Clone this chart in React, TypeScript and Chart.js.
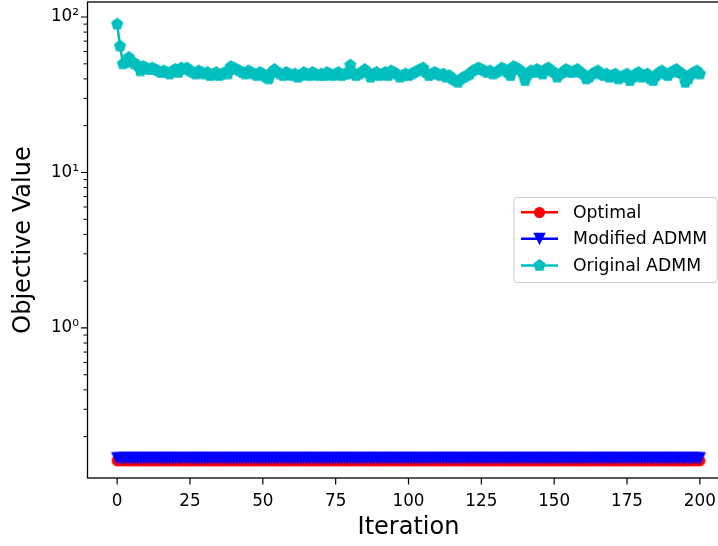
import React, { useEffect, useRef } from 'react';
import { Chart, registerables } from 'chart.js';

Chart.register(...registerables);

// ---------------- data ----------------
const iterations: number[] = Array.from({ length: 201 }, (_, i) => i);

const originalADMM: number[] = [
  90, 65, 50, 51, 55, 52, 50, 49, 45, 48, 47, 46, 47, 46, 45, 44, 45, 44, 43, 45, 46,
  44, 47, 46, 47, 45, 44, 43, 45, 44, 43, 44, 42, 43, 44, 42, 43, 44, 43, 48, 47,
  46, 45, 44, 43, 45, 44, 43, 42, 44, 43, 41, 40, 44, 46, 44, 43, 42, 44, 43, 42,
  43, 41, 42, 44, 43, 42, 44, 43, 42, 43, 42, 44, 43, 42, 43, 44, 42, 43, 43, 49,
  44, 42, 43, 44, 46, 44, 41, 43, 44, 42, 43, 44, 42, 45, 44, 43, 41, 42, 43, 42,
  43, 44, 45, 46, 47, 44, 42, 43, 44, 43, 42, 43, 41, 42, 40, 39, 38, 40, 41, 42,
  43, 45, 46, 47, 46, 45, 44, 45, 43, 44, 45, 47, 46, 44, 42, 48, 47, 46, 44, 39,
  43, 45, 44, 46, 45, 43, 46, 47, 45, 44, 41, 43, 44, 46, 45, 44, 45, 46, 44, 43,
  40, 41, 43, 44, 45, 43, 42, 43, 41, 42, 43, 40, 41, 42, 43, 39, 41, 43, 44, 41,
  42, 43, 40, 39, 42, 44, 45, 43, 42, 44, 45, 46, 44, 43, 38, 40, 43, 44, 45, 43,
];

const OPTIMAL_VALUE = 0.14;
const MODIFIED_VALUE = 0.146;
const optimal: number[] = iterations.map(() => OPTIMAL_VALUE);
const modifiedADMM: number[] = iterations.map(() => MODIFIED_VALUE);

const seriesLabels = ['Optimal', 'Modified ADMM', 'Original ADMM'];
const xTickValues = [0, 25, 50, 75, 100, 125, 150, 175, 200];
const yMajorTicks = [1, 10, 100];
const yMinorTicks = [0.2, 0.3, 0.4, 0.5, 0.6, 0.7, 0.8, 0.9, 2, 3, 4, 5, 6, 7, 8, 9, 20, 30, 40, 50, 60, 70, 80, 90];
const yTickLabels: Record<string, string> = { '1': '10\u2070', '10': '10\u00b9', '100': '10\u00b2' };

const X_MIN = -10;
const X_MAX = 210;
const Y_MIN = 0.1084;
const Y_MAX = 124.9;

// ---------------- styles ----------------
const RED = '#ff0000';
const BLUE = '#0000ff';
const CYAN = '#00bfbf';
const FONT = "'DejaVu Sans', sans-serif";

const AREA = { left: 88, top: 2, right: 729, bottom: 478 };
const CANVAS_W = 740;
const CANVAS_H = 546;

function makeMarker(kind: 'pentagon' | 'tridown' | 'circle', color: string, ms: number, ew: number): HTMLCanvasElement {
  const dim = Math.ceil(ms + ew * 2 + 2) | 0;
  const c = document.createElement('canvas');
  c.width = dim;
  c.height = dim;
  const ctx = c.getContext('2d')!;
  const cx = dim / 2;
  const cy = dim / 2;
  ctx.beginPath();
  if (kind === 'pentagon') {
    const r = ms / 2;
    for (let k = 0; k < 5; k++) {
      const a = -Math.PI / 2 + (k * 2 * Math.PI) / 5;
      const px = cx + r * Math.cos(a);
      const py = cy + r * Math.sin(a);
      if (k === 0) ctx.moveTo(px, py);
      else ctx.lineTo(px, py);
    }
  } else if (kind === 'tridown') {
    const h = ms / 2;
    ctx.moveTo(cx, cy + h);
    ctx.lineTo(cx - h, cy - h);
    ctx.lineTo(cx + h, cy - h);
  } else {
    ctx.arc(cx, cy, ms / 2, 0, Math.PI * 2);
  }
  ctx.closePath();
  ctx.fillStyle = color;
  ctx.fill();
  ctx.lineWidth = ew;
  ctx.strokeStyle = color;
  ctx.lineJoin = 'miter';
  ctx.stroke();
  return c;
}

export default function App() {
  const ref = useRef<HTMLCanvasElement | null>(null);

  useEffect(() => {
    if (!ref.current) return;
    Chart.defaults.font.family = FONT;

    const redMarker = makeMarker('circle', RED, 9.6, 1.5);
    const blueMarker = makeMarker('tridown', BLUE, 10, 1.5);
    const cyanMarker = makeMarker('pentagon', CYAN, 11, 1.6);
    const markers = [redMarker, blueMarker, cyanMarker];
    const colors = [RED, BLUE, CYAN];

    const decorPlugin = {
      id: 'decor',
      afterDraw(chart: any) {
        const { ctx, chartArea } = chart;
        const { left, right, top, bottom } = chartArea;
        const xs = chart.scales.x;
        const ys = chart.scales.y;
        ctx.save();
        // spines
        ctx.strokeStyle = '#000';
        ctx.lineWidth = 1.3;
        ctx.strokeRect(left - 0.5, top, right - left + 0.5, bottom - top);
        // major ticks
        ctx.lineWidth = 1.2;
        ctx.beginPath();
        for (const v of xTickValues) {
          const px = xs.getPixelForValue(v);
          ctx.moveTo(px, bottom);
          ctx.lineTo(px, bottom + 6.5);
        }
        for (const v of yMajorTicks) {
          const py = ys.getPixelForValue(v);
          ctx.moveTo(left - 0.5, py);
          ctx.lineTo(left - 7, py);
        }
        ctx.stroke();
        // minor ticks
        ctx.lineWidth = 1;
        ctx.beginPath();
        for (const v of yMinorTicks) {
          const py = ys.getPixelForValue(v);
          ctx.moveTo(left - 0.5, py);
          ctx.lineTo(left - 4.5, py);
        }
        ctx.stroke();
        // y tick labels
        ctx.fillStyle = '#000';
        ctx.font = `16.8px ${FONT}`;
        ctx.textAlign = 'right';
        ctx.textBaseline = 'middle';
        for (const v of yMajorTicks) {
          const py = ys.getPixelForValue(v);
          ctx.fillText(yTickLabels[String(v)], left - 9, py);
        }

        // legend
        const boxW = 203;
        const boxH = 85;
        const bx = right - 12 - boxW;
        const by = (top + bottom) / 2 - boxH / 2;
        ctx.beginPath();
        const r = 3;
        ctx.moveTo(bx + r, by);
        ctx.lineTo(bx + boxW - r, by);
        ctx.arcTo(bx + boxW, by, bx + boxW, by + r, r);
        ctx.lineTo(bx + boxW, by + boxH - r);
        ctx.arcTo(bx + boxW, by + boxH, bx + boxW - r, by + boxH, r);
        ctx.lineTo(bx + r, by + boxH);
        ctx.arcTo(bx, by + boxH, bx, by + boxH - r, r);
        ctx.lineTo(bx, by + r);
        ctx.arcTo(bx, by, bx + r, by, r);
        ctx.closePath();
        ctx.fillStyle = 'rgba(255,255,255,0.8)';
        ctx.fill();
        ctx.strokeStyle = '#cccccc';
        ctx.lineWidth = 1;
        ctx.stroke();

        ctx.font = `17.3px ${FONT}`;
        ctx.textBaseline = 'middle';
        ctx.textAlign = 'left';
        for (let i = 0; i < seriesLabels.length; i++) {
          const ry = by + 14.7 + i * 26.6;
          ctx.strokeStyle = colors[i];
          ctx.lineWidth = 2.5;
          ctx.beginPath();
          ctx.moveTo(bx + 7, ry);
          ctx.lineTo(bx + 44, ry);
          ctx.stroke();
          const m = markers[i];
          ctx.drawImage(m, Math.round(bx + 25.5 - m.width / 2), Math.round(ry - m.height / 2));
          ctx.fillStyle = '#000';
          ctx.fillText(seriesLabels[i], bx + 59, ry + 1);
        }
        ctx.restore();
      },
    };

    const toXY = (arr: number[]) => iterations.map((x, i) => ({ x, y: arr[i] }));

    const chart: any = new Chart(ref.current, {
      type: 'line',
      data: {
        datasets: [
          { label: seriesLabels[0], data: toXY(optimal), borderColor: RED, backgroundColor: RED, borderWidth: 2.5, pointStyle: redMarker as any, pointRadius: 5, order: 3 },
          { label: seriesLabels[1], data: toXY(modifiedADMM), borderColor: BLUE, backgroundColor: BLUE, borderWidth: 2.5, pointStyle: blueMarker as any, pointRadius: 5, order: 2 },
          { label: seriesLabels[2], data: toXY(originalADMM), borderColor: CYAN, backgroundColor: CYAN, borderWidth: 2.5, pointStyle: cyanMarker as any, pointRadius: 5, order: 1 },
        ],
      },
      options: {
        animation: false,
        responsive: false,
        devicePixelRatio: 1,
        events: [],
        layout: { autoPadding: false, padding: { left: 0, top: AREA.top, right: CANVAS_W - AREA.right, bottom: 0 } },
        plugins: { legend: { display: false }, tooltip: { enabled: false } },
        elements: { line: { tension: 0 } },
        scales: {
          x: {
            type: 'linear',
            min: X_MIN,
            max: X_MAX,
            grid: { display: false, drawTicks: false },
            border: { display: false },
            ticks: { font: { size: 16.8, family: FONT }, color: '#000', padding: 14, maxRotation: 0, autoSkip: false, callback: (v: any) => String(v) },
            title: { display: true, text: 'Iteration', font: { size: 24, family: FONT }, color: '#000', padding: { top: 0, bottom: 4 } },
            afterBuildTicks: (s: any) => { s.ticks = xTickValues.map((v) => ({ value: v })); },
            afterFit: (s: any) => { s.height = CANVAS_H - AREA.bottom; s.paddingLeft = 0; s.paddingRight = 0; s.paddingTop = 0; s.paddingBottom = 0; },
          },
          y: {
            type: 'logarithmic',
            min: Y_MIN,
            max: Y_MAX,
            grid: { display: false, drawTicks: false },
            border: { display: false },
            ticks: { display: false },
            title: { display: true, text: 'Objective Value', font: { size: 24, family: FONT }, color: '#000', padding: { top: 9, bottom: 0 } },
            afterBuildTicks: (s: any) => { s.ticks = yMajorTicks.map((v) => ({ value: v, major: true })); },
            afterFit: (s: any) => { s.width = AREA.left; s.paddingLeft = 0; s.paddingRight = 0; s.paddingTop = 0; s.paddingBottom = 0; },
          },
        },
      },
      plugins: [decorPlugin],
    } as any);

    return () => chart.destroy();
  }, []);

  return (
    <div style={{ position: 'fixed', left: 0, top: 0, width: 718, height: 546, overflow: 'hidden', background: '#fff' }}>
      <canvas ref={ref} width={CANVAS_W} height={CANVAS_H} style={{ display: 'block', width: CANVAS_W, height: CANVAS_H }} />
    </div>
  );
}
